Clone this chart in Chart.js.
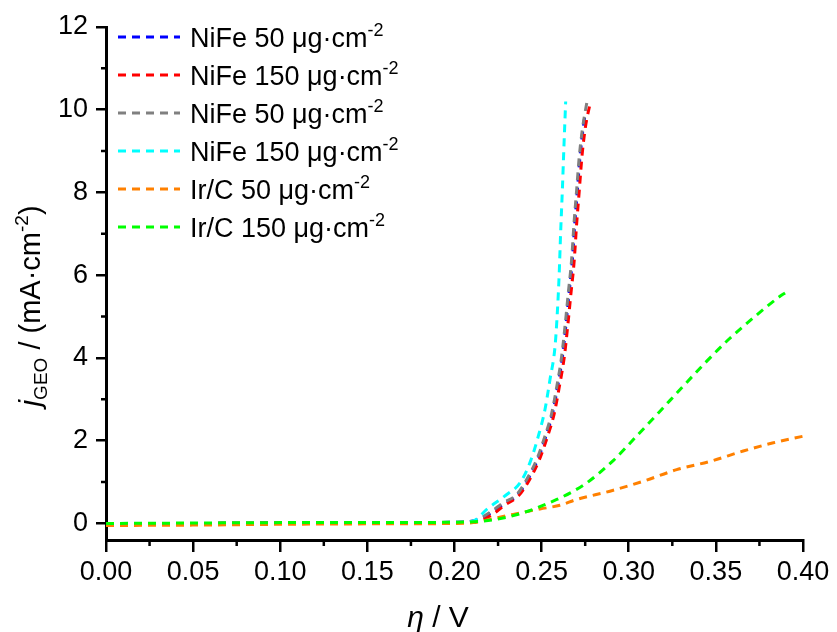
<!DOCTYPE html>
<html>
<head>
<meta charset="utf-8">
<script src="https://cdn.jsdelivr.net/npm/chart.js@4.4.1/dist/chart.umd.min.js"></script>
<style>
  html, body { margin: 0; padding: 0; background: #fff; }
  #wrap { width: 837px; height: 632px; }
</style>
</head>
<body>
<div id="wrap"><canvas id="chart" width="837" height="632"></canvas></div>
<script>
// ---- data ----
const xTicks = [0.00, 0.05, 0.10, 0.15, 0.20, 0.25, 0.30, 0.35, 0.40];
const yTicks = [0, 2, 4, 6, 8, 10, 12];
const xMinor = [0.025, 0.075, 0.125, 0.175, 0.225, 0.275, 0.325, 0.375];
const yMinor = [1, 3, 5, 7, 9, 11];

const seriesNames = ['NiFe 50', 'NiFe 150', 'NiFe 50', 'NiFe 150', 'Ir/C 50', 'Ir/C 150'];
const seriesColors = ['#0000ff', '#ff0000', '#808080', '#00ffff', '#ff8000', '#00ff00'];

const nife50aV = [0, 0.05, 0.10, 0.15, 0.20, 0.2108, 0.2208, 0.2284, 0.2361, 0.2418, 0.2476, 0.2523, 0.2562, 0.2591, 0.2619, 0.2638, 0.2657, 0.2676, 0.2690, 0.2705, 0.2720, 0.2735, 0.2748];
const nife50aJ = [0, 0, 0.01, 0.01, 0.03, 0.06, 0.25, 0.48, 0.68, 1.04, 1.53, 2.09, 2.65, 3.29, 4.02, 4.74, 5.55, 6.35, 7.24, 8.04, 8.85, 9.45, 9.85];

const nife150aV = [0, 0.05, 0.10, 0.15, 0.20, 0.2108, 0.2204, 0.2290, 0.2370, 0.2428, 0.2486, 0.2533, 0.2572, 0.2601, 0.2630, 0.2649, 0.2668, 0.2687, 0.2701, 0.2716, 0.2731, 0.2751, 0.2778];
const nife150aJ = [0, 0, 0.01, 0.01, 0.02, 0.04, 0.18, 0.45, 0.68, 1.04, 1.53, 2.09, 2.65, 3.29, 4.02, 4.74, 5.55, 6.35, 7.24, 8.04, 8.85, 9.57, 10.15];

const nife50bV = [0, 0.05, 0.10, 0.15, 0.20, 0.2108, 0.2204, 0.2280, 0.2357, 0.2414, 0.2472, 0.2519, 0.2558, 0.2587, 0.2615, 0.2634, 0.2653, 0.2672, 0.2686, 0.2701, 0.2716, 0.2736, 0.2759];
const nife50bJ = [0, 0, 0.01, 0.01, 0.03, 0.06, 0.27, 0.50, 0.70, 1.06, 1.55, 2.11, 2.67, 3.31, 4.04, 4.76, 5.57, 6.37, 7.26, 8.06, 8.87, 9.59, 10.16];

const nife150bV = [0, 0.05, 0.10, 0.15, 0.20, 0.2108, 0.2185, 0.2300, 0.2376, 0.2433, 0.2481, 0.2519, 0.2548, 0.2577, 0.2590, 0.2601, 0.2609, 0.2619, 0.2628, 0.2638];
const nife150bJ = [0, 0, 0, 0, 0.02, 0.06, 0.34, 0.70, 0.98, 1.47, 2.11, 2.75, 3.48, 4.28, 5.09, 6.05, 7.02, 8.06, 9.11, 10.20];

const irc50V = [0, 0.05, 0.10, 0.15, 0.20, 0.2108, 0.2204, 0.2337, 0.2491, 0.2605, 0.2701, 0.2892, 0.3084, 0.3275, 0.3466, 0.3657, 0.3830, 0.4002];
const irc50J = [-0.05, -0.04, -0.02, -0.01, 0.00, 0.02, 0.10, 0.22, 0.35, 0.44, 0.58, 0.78, 1.02, 1.30, 1.50, 1.75, 1.95, 2.11];

const irc150V = [0, 0.05, 0.10, 0.15, 0.20, 0.2108, 0.2242, 0.2395, 0.2587, 0.2682, 0.2759, 0.2911, 0.3036, 0.3170, 0.3304, 0.3438, 0.3571, 0.3715, 0.3868, 0.3897];
const irc150J = [0, 0.01, 0.02, 0.02, 0.03, 0.04, 0.10, 0.26, 0.58, 0.78, 0.98, 1.52, 2.07, 2.67, 3.28, 3.88, 4.44, 4.97, 5.49, 5.57];

const seriesV = [nife50aV, nife150aV, nife50bV, nife150bV, irc50V, irc150V];
const seriesJ = [nife50aJ, nife150aJ, nife50bJ, nife150bJ, irc50J, irc150J];

const FONT = "'Liberation Sans', Arial, sans-serif";
const DASH = [8, 6];

function toPoints(vs, js) {
    return vs.map((v, i) => ({ x: v, y: js[i] }));
}

// draw a run of text pieces: {t, size, italic, dy}
function drawRich(ctx, parts, x, y, align) {
    let total = 0;
    parts.forEach(p => {
        ctx.font = (p.italic ? 'italic ' : '') + p.size + 'px ' + FONT;
        p.w = ctx.measureText(p.t).width;
        total += p.w;
    });
    let cx = align === 'center' ? x - total / 2 : x;
    ctx.textAlign = 'left';
    ctx.textBaseline = 'alphabetic';
    parts.forEach(p => {
        ctx.font = (p.italic ? 'italic ' : '') + p.size + 'px ' + FONT;
        ctx.fillText(p.t, cx, y + (p.dy || 0));
        cx += p.w;
    });
}

const decorPlugin = {
    id: 'decor',
    afterDraw(chart) {
        const ctx = chart.ctx;
        const xs = chart.scales.x;
        const ys = chart.scales.y;
        const area = chart.chartArea;
        ctx.save();
        ctx.strokeStyle = '#000';
        ctx.fillStyle = '#000';
        ctx.lineWidth = 2.5;

        // minor ticks
        ctx.beginPath();
        xMinor.forEach(v => {
            const px = xs.getPixelForValue(v);
            ctx.moveTo(px, area.bottom);
            ctx.lineTo(px, area.bottom + 6);
        });
        yMinor.forEach(v => {
            const py = ys.getPixelForValue(v);
            ctx.moveTo(area.left, py);
            ctx.lineTo(area.left - 5, py);
        });
        ctx.stroke();

        // legend (inside plot, top-left)
        const rowH = 38;
        chart.data.datasets.forEach((ds, i) => {
            const y = 37 + i * rowH;
            ctx.save();
            ctx.strokeStyle = ds.borderColor;
            ctx.lineWidth = 3;
            ctx.setLineDash(DASH);
            ctx.beginPath();
            ctx.moveTo(118, y);
            ctx.lineTo(180, y);
            ctx.stroke();
            ctx.restore();
            drawRich(ctx, [
                { t: ds.label + ' \u03bcg\u00b7cm', size: 27 },
                { t: '-2', size: 18, dy: -11 }
            ], 190, y + 10, 'left');
        });

        // x title
        drawRich(ctx, [
            { t: '\u03b7', size: 30, italic: true },
            { t: ' / V', size: 30 }
        ], 438, 627, 'center');

        // y title (rotated)
        ctx.save();
        ctx.translate(40, 306);
        ctx.rotate(-Math.PI / 2);
        drawRich(ctx, [
            { t: 'j', size: 30, italic: true },
            { t: 'GEO', size: 19, dy: 7 },
            { t: ' / (mA\u00b7cm', size: 29 },
            { t: '-2', size: 19, dy: -12 },
            { t: ')', size: 29 }
        ], 0, 0, 'center');
        ctx.restore();

        ctx.restore();
    }
};

const datasets = seriesNames.map((name, i) => ({
    label: name,
    data: toPoints(seriesV[i], seriesJ[i]),
    borderColor: seriesColors[i],
    backgroundColor: seriesColors[i],
    borderWidth: 3,
    borderDash: DASH,
    pointRadius: 0,
    fill: false,
    cubicInterpolationMode: 'monotone',
    order: seriesNames.length - i
}));

new Chart(document.getElementById('chart'), {
    type: 'line',
    data: { datasets: datasets },
    options: {
        responsive: false,
        animation: false,
        devicePixelRatio: 1,
        layout: { padding: { left: 0, top: 27, right: 34, bottom: 0 } },
        plugins: {
            legend: { display: false },
            tooltip: { enabled: false }
        },
        scales: {
            x: {
                type: 'linear',
                min: 0,
                max: 0.40,
                afterBuildTicks: scale => { scale.ticks = xTicks.map(v => ({ value: v })); },
                afterFit: scale => { scale.height = 92; },
                border: { display: true, color: '#000', width: 3 },
                grid: { drawOnChartArea: false, drawTicks: true, tickLength: 12, color: '#000', lineWidth: 2.5 },
                ticks: {
                    color: '#000',
                    padding: 4,
                    maxRotation: 0,
                    font: { family: FONT, size: 27 },
                    callback: v => v.toFixed(2)
                }
            },
            y: {
                type: 'linear',
                min: -0.4,
                max: 12,
                afterBuildTicks: scale => { scale.ticks = yTicks.map(v => ({ value: v })); },
                afterFit: scale => { scale.width = 106; },
                border: { display: true, color: '#000', width: 3 },
                grid: { drawOnChartArea: false, drawTicks: true, tickLength: 10, color: '#000', lineWidth: 2.5 },
                ticks: {
                    color: '#000',
                    padding: 8,
                    font: { family: FONT, size: 27 },
                    callback: v => String(v)
                }
            }
        }
    },
    plugins: [decorPlugin]
});
</script>
</body>
</html>
